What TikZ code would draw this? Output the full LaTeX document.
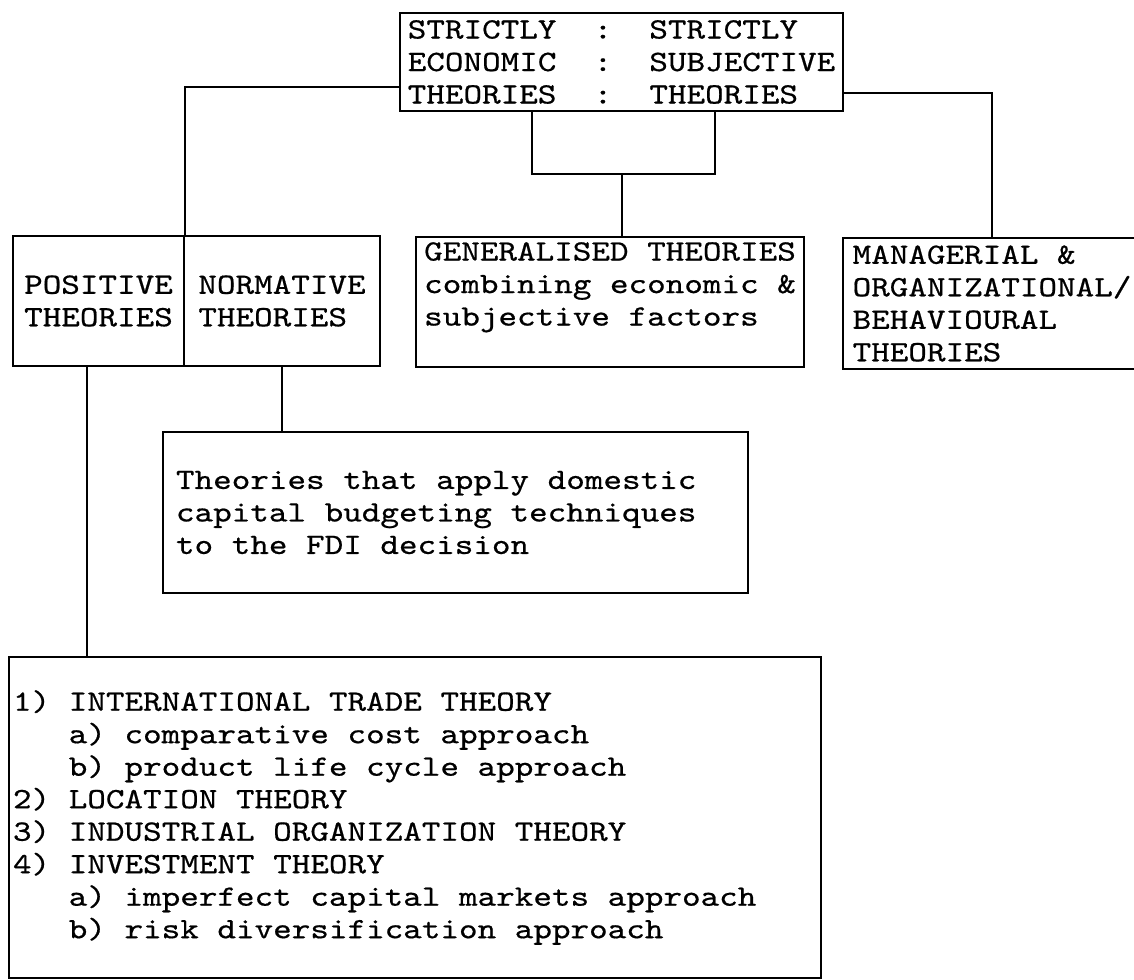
\documentclass[tikz,border=0pt]{standalone}
\usepackage{fontspec}
\setmonofont{lmmono10-regular.otf}[FakeStretch=1.2, FakeBold=0.6]
\usetikzlibrary{positioning}

\newcommand{\typeset}{\ttfamily\fontsize{29.5}{32.5}\selectfont\fontdimen2\font=18.585pt\fontdimen3\font=0pt\fontdimen4\font=0pt\spaceskip=0pt\xspaceskip=0pt\relax}

\tikzset{
	theorybox/.style={draw, anchor=north west, inner sep=0pt, align=flush left, font=\typeset},
}

\begin{document}
\begin{tikzpicture}[x=1pt, y=-1pt, line width=2pt]
		\useasboundingbox (0,0) rectangle (1134,979);

		\begin{scope}
			\node [theorybox, minimum width=443pt, minimum height=98pt] (strict) at (399,12) {STRICTLY~~:~~STRICTLY\\ECONOMIC~~:~~SUBJECTIVE\\THEORIES~~:~~THEORIES};
		\end{scope}

		\begin{scope}
			\node [theorybox, minimum width=171pt, minimum height=130pt] (positive) at (12,235) {POSITIVE\\THEORIES};
			\node [theorybox, minimum width=196pt, minimum height=130pt] (normative) at (183,235) {NORMATIVE\\THEORIES};
			\node [theorybox, minimum width=388pt, minimum height=130pt] (general) at (415,236) {GENERALISED THEORIES\\combining economic \&\\subjective factors\\[-6pt]\strut};
			\node [theorybox, minimum width=298pt, minimum height=131pt] (managerial) at (842,237) {MANAGERIAL \&\\ORGANIZATIONAL/\\BEHAVIOURAL\\THEORIES};
		\end{scope}

		\begin{scope}
			\node [theorybox, inner xsep=13pt, text width=559pt, minimum height=161pt] (capital) at (162,431) {Theories that apply domestic\\capital budgeting techniques\\to the FDI decision};
			\node [theorybox, inner xsep=4pt, text width=804pt, minimum height=321pt] (trade) at (8,656) {1)~INTERNATIONAL TRADE THEORY\\~~~a)~comparative cost approach\\~~~b)~product life cycle approach\\2)~LOCATION THEORY\\3)~INDUSTRIAL ORGANIZATION THEORY\\4)~INVESTMENT THEORY\\~~~a)~imperfect capital markets approach\\~~~b)~risk diversification approach};
		\end{scope}

		\begin{scope}
			\coordinate (join) at ([yshift=-62pt]strict.south);
			\draw ([yshift=-25pt]strict.west) -| (positive.north east);
			\draw ([yshift=-31pt]strict.east) -| (managerial.north);
			\draw ([xshift=-90pt]strict.south) |- ([xshift=93pt]join) -- ([xshift=93pt]strict.south);
			\draw (join) -- (join |- general.north);
			\draw ([xshift=-12pt]positive.south) -- ([xshift=-12pt]positive.south |- trade.north);
			\draw (normative.south) -- (normative.south |- capital.north);
		\end{scope}
	\end{tikzpicture}
\end{document}
